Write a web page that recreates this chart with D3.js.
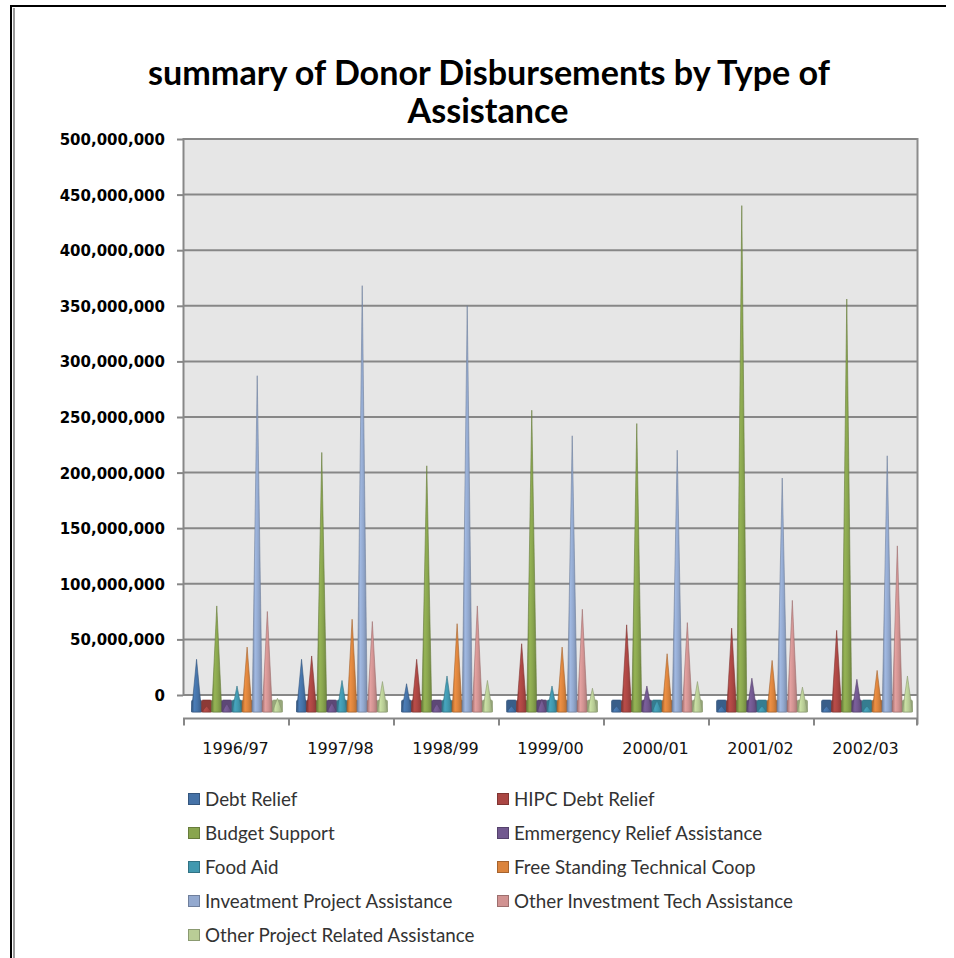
<!DOCTYPE html>
<html>
<head>
<meta charset="utf-8">
<script src="https://cdn.jsdelivr.net/npm/d3@7"></script>
<style>
  body { margin: 0; background: #fff; }
  svg { display: block; }
</style>
</head>
<body>
<svg id="chart" width="954" height="958"></svg>
<script>
// ---- data ----
const categories = ["1996/97", "1997/98", "1998/99", "1999/00", "2000/01", "2001/02", "2002/03"];
const seriesNames = [
  "Debt Relief", "HIPC Debt Relief", "Budget Support", "Emmergency Relief  Assistance",
  "Food Aid", "Free Standing Technical Coop", "Inveatment Project Assistance",
  "Other Investment Tech Assistance", "Other Project Related Assistance"
];
const seriesColors = ["#4572a7", "#aa4643", "#89a54e", "#71588f", "#4198af", "#db843d", "#93a9cf", "#d19392", "#b9cd96"];

const debtRelief          = [42e6, 42e6, 20e6, 0, 0, 0, 0];
const hipcDebtRelief      = [0, 45e6, 42e6, 56e6, 73e6, 70e6, 68e6];
const budgetSupport       = [90e6, 228e6, 216e6, 266e6, 254e6, 450e6, 366e6];
const emergencyRelief     = [2e6, 3e6, 2e6, 6e6, 18e6, 25e6, 24e6];
const foodAid             = [18e6, 23e6, 27e6, 18e6, 5e6, 0, 0];
const freeStandingTC      = [53e6, 78e6, 74e6, 53e6, 47e6, 41e6, 32e6];
const investmentProject   = [297e6, 378e6, 360e6, 243e6, 230e6, 205e6, 225e6];
const otherInvestmentTech = [85e6, 76e6, 90e6, 87e6, 75e6, 95e6, 144e6];
const otherProjectRelated = [7e6, 22e6, 23e6, 16e6, 22e6, 17e6, 27e6];

const seriesValues = [debtRelief, hipcDebtRelief, budgetSupport, emergencyRelief, foodAid,
  freeStandingTC, investmentProject, otherInvestmentTech, otherProjectRelated];

const yTicks = [0, 50e6, 100e6, 150e6, 200e6, 250e6, 300e6, 350e6, 400e6, 450e6, 500e6];

const titleLines = ["summary of Donor Disbursements by Type of", "Assistance"];

// ---- layout ----
const svg = d3.select("#chart");
const wall = { left: 183, right: 918, top: 139, bottom: 695 };
const floorFront = 718.5;
const coneDepthShift = 11;   // cones stand mid-floor, in front of the back wall

const y = d3.scaleLinear().domain([0, 500e6]).range([wall.bottom, wall.top]);
const x0 = d3.scaleBand().domain(categories).range([wall.left, wall.right]);
const x1 = d3.scaleBand().domain(seriesNames).range([8.5, x0.bandwidth() - 5.5]);
const color = d3.scaleOrdinal().domain(seriesNames).range(seriesColors);

// outer frame
svg.append("line").attr("x1", 10).attr("x2", 946).attr("y1", 6).attr("y2", 6)
  .attr("stroke", "#000").attr("stroke-width", 2);
svg.append("line").attr("x1", 11).attr("x2", 11).attr("y1", 5).attr("y2", 958)
  .attr("stroke", "#000").attr("stroke-width", 2);
svg.append("line").attr("x1", 14).attr("x2", 14).attr("y1", 8).attr("y2", 958)
  .attr("stroke", "#9a9a9a").attr("stroke-width", 2);

// title
const title = svg.append("g").attr("font-family", "Lato, 'Open Sans', sans-serif")
  .attr("font-weight", "bold").attr("fill", "#000").attr("text-anchor", "middle");
const t1 = title.append("text").attr("x", 489).attr("y", 85).attr("font-size", 30).text(titleLines[0]);
const w1 = t1.node().getComputedTextLength();
const titleSize = 30 * 682 / w1;
t1.attr("font-size", titleSize);
title.append("text").attr("x", 488).attr("y", 123).attr("font-size", titleSize).text(titleLines[1]);

// back wall
svg.append("rect").attr("x", wall.left).attr("y", wall.top)
  .attr("width", wall.right - wall.left).attr("height", wall.bottom - wall.top)
  .attr("fill", "#e6e6e6");

// gridlines
svg.append("g").selectAll("line").data(yTicks).join("line")
  .attr("x1", wall.left).attr("x2", wall.right)
  .attr("y1", d => y(d)).attr("y2", d => y(d))
  .attr("stroke", "#878787").attr("stroke-width", 2);

// value axis
const yAxis = svg.append("g").attr("transform", `translate(${wall.left},0)`)
  .call(d3.axisLeft(y).tickValues(yTicks).tickFormat(d3.format(",")).tickSize(6).tickPadding(12));
yAxis.select(".domain").remove();
yAxis.selectAll(".tick line").attr("stroke", "#878787").attr("stroke-width", 2);
yAxis.selectAll(".tick text").attr("font-family", "'DejaVu Sans', sans-serif")
  .attr("font-weight", "bold").attr("font-size", 15).attr("fill", "#000").attr("dy", "0.36em");
svg.append("line").attr("x1", wall.left + 0.5).attr("x2", wall.left + 0.5)
  .attr("y1", wall.top - 1).attr("y2", wall.bottom + 1)
  .attr("stroke", "#878787").attr("stroke-width", 2);
svg.append("line").attr("x1", wall.right - 0.5).attr("x2", wall.right - 0.5)
  .attr("y1", wall.top - 1).attr("y2", floorFront + 6)
  .attr("stroke", "#8c8c8c").attr("stroke-width", 2);

// floor front edge and category axis
svg.append("line").attr("x1", wall.left).attr("x2", wall.right)
  .attr("y1", floorFront).attr("y2", floorFront)
  .attr("stroke", "#878787").attr("stroke-width", 2);
svg.append("g").selectAll("line").data(categories.concat(["end"])).join("line")
  .attr("x1", (d, i) => wall.left + i * x0.step() + (i === categories.length ? -1 : 1))
  .attr("x2", (d, i) => wall.left + i * x0.step() + (i === categories.length ? -1 : 1))
  .attr("y1", floorFront).attr("y2", floorFront + 7)
  .attr("stroke", "#878787").attr("stroke-width", 2);

const xAxis = svg.append("g").attr("transform", `translate(0,${floorFront})`)
  .call(d3.axisBottom(x0).tickSize(0).tickPadding(24));
xAxis.select(".domain").remove();
xAxis.selectAll(".tick text").attr("font-family", "'DejaVu Sans', sans-serif")
  .attr("font-size", 16).attr("fill", "#111");

// shading gradients for cones
const defs = svg.append("defs");
seriesNames.forEach((s, i) => {
  const c = d3.color(seriesColors[i]);
  const g = defs.append("linearGradient").attr("id", "cone" + i)
    .attr("x1", 0).attr("x2", 1).attr("y1", 0).attr("y2", 0);
  g.append("stop").attr("offset", 0).attr("stop-color", c.darker(0.7));
  g.append("stop").attr("offset", 0.3).attr("stop-color", c.brighter(0.25));
  g.append("stop").attr("offset", 0.6).attr("stop-color", c);
  g.append("stop").attr("offset", 1).attr("stop-color", c.darker(0.6));
});

// cones
const baseTop = y(0) + 5, baseBottom = y(0) + 17;
const coneData = [];
seriesNames.forEach((s, si) => {
  categories.forEach((cat, ci) => {
    coneData.push({ s, si, cat, v: seriesValues[si][ci] });
  });
});
const cones = svg.append("g").selectAll("g").data(coneData).join("g");
const halfW = x1.bandwidth() / 2;
cones.append("rect")
  .attr("x", d => x0(d.cat) + x1(d.s))
  .attr("y", baseTop)
  .attr("width", x1.bandwidth())
  .attr("height", baseBottom - baseTop)
  .attr("rx", 1.5)
  .attr("fill", d => d3.color(color(d.s)).darker(0.55))
  .attr("stroke", d => d3.color(color(d.s)).darker(0.9))
  .attr("stroke-width", 0.6);
cones.append("path")
  .attr("d", d => {
    const cx = x0(d.cat) + x1(d.s) + halfW;
    const apex = y(d.v) + coneDepthShift;
    return `M${cx - halfW},${baseBottom} L${cx},${apex} L${cx + halfW},${baseBottom} Z`;
  })
  .attr("fill", d => `url(#cone${d.si})`)
  .attr("stroke", d => d3.color(color(d.s)).darker(0.8))
  .attr("stroke-width", 0.6)
  .attr("stroke-linejoin", "round");

// legend
const legend = svg.append("g").attr("font-family", "Lato, 'Open Sans', sans-serif")
  .attr("font-size", 18.8).attr("fill", "#333");
const legendItems = legend.selectAll("g").data(seriesNames).join("g")
  .attr("transform", (d, i) => `translate(${i % 2 === 0 ? 188 : 497},${799 + Math.floor(i / 2) * 34})`);
legendItems.append("rect").attr("x", 0.5).attr("y", -5.5).attr("width", 11).attr("height", 11)
  .attr("fill", d => color(d)).attr("stroke", d => d3.color(color(d)).darker(0.8)).attr("stroke-width", 1);
legendItems.append("text").attr("x", 17).attr("y", 6.5).text(d => d);
</script>
</body>
</html>
